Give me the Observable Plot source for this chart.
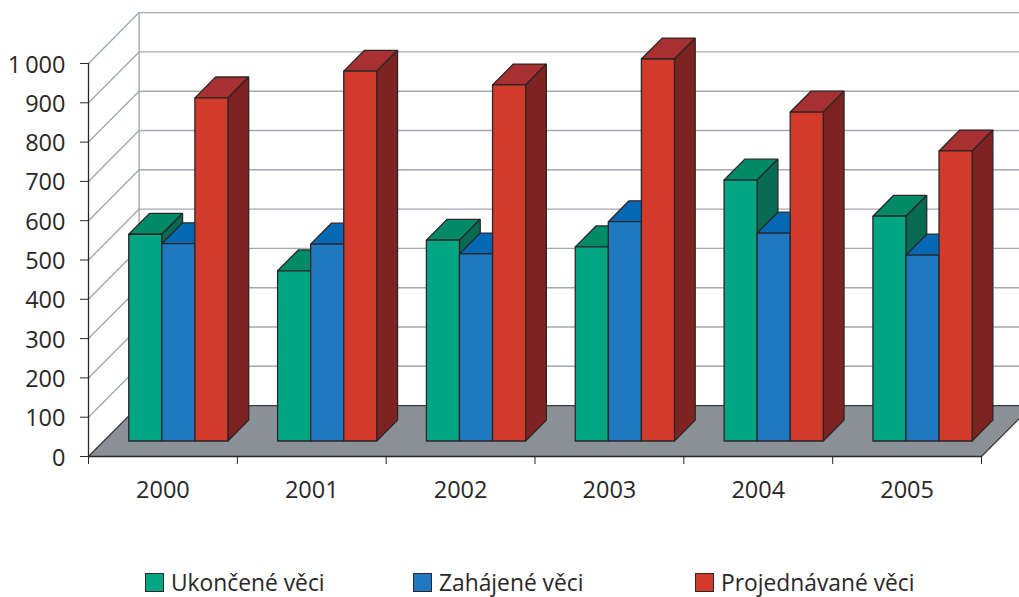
<!DOCTYPE html>
<html lang="cs">
<head>
<meta charset="utf-8">
<script src="https://cdn.jsdelivr.net/npm/d3@7"></script>
<script src="https://cdn.jsdelivr.net/npm/@observablehq/plot@0.6"></script>
<style>
  html, body { margin: 0; padding: 0; background: #fff; overflow: hidden; }
  #legend { position: relative; height: 37px; width: 1019px; font: 22.8px "Open Sans", sans-serif; color: #2b2627; }
  .item { position: absolute; top: 7px; display: flex; align-items: center; height: 31px; white-space: nowrap; }
  .swatch { width: 17px; height: 17px; border: 1.5px solid #2b2627; margin-right: 7px; display: inline-block; }
  svg { display: block; word-spacing: -2px; }
</style>
</head>
<body>
<div id="chart"></div>
<div id="legend"></div>
<script>
const years = ["2000", "2001", "2002", "2003", "2004", "2005"];
const seriesNames = ["Ukončené věci", "Zahájené věci", "Projednávané věci"];
const ukoncene = [526, 433, 511, 494, 664, 572];
const zahajene = [502, 501, 476, 558, 529, 473];
const projednavane = [873, 941, 906, 972, 837, 738];
const yTicks = [0, 100, 200, 300, 400, 500, 600, 700, 800, 900, 1000];

const seriesValues = [ukoncene, zahajene, projednavane];
const faceColors = [
  { front: "#00a582", top: "#008a68", side: "#066b52" },
  { front: "#2079c0", top: "#0468b4", side: "#0468b4" },
  { front: "#d23a2b", top: "#a83030", side: "#7d2422" }
];

// Oblique projection: depth d (0 = front of the floor, 1 = back wall)
const depthX = 0.34;       // category units per full depth
const depthY = 129.5;      // value units per full depth
const barFront = 0.305, barBack = 0.715;
const barWidth = 2 / 9, barGap = 1 / 6;
const project = (c, v, d) => ({ x: c + d * depthX, y: v + d * depthY });

let faceId = 0;
function face(fill, corners) {
  const id = faceId++;
  return [...corners, corners[0]].map(([c, v, d]) => ({ ...project(c, v, d), id, fill }));
}

const floor = face("#8a9196", [[0, 0, 0], [6, 0, 0], [6, 0, 1], [0, 0, 1]]);

const bars = [];
years.forEach((_, i) => {
  seriesValues.forEach((vals, s) => {
    const v = vals[i];
    const x0 = i + barGap + s * barWidth, x1 = x0 + barWidth;
    const col = faceColors[s];
    bars.push(...face(col.top, [[x0, v, barFront], [x1, v, barFront], [x1, v, barBack], [x0, v, barBack]]));
    bars.push(...face(col.side, [[x1, 0, barFront], [x1, v, barFront], [x1, v, barBack], [x1, 0, barBack]]));
    bars.push(...face(col.front, [[x0, 0, barFront], [x1, 0, barFront], [x1, v, barFront], [x0, v, barFront]]));
  });
});

// Back-wall gridlines and the diagonal side-wall lines
const grid = [];
yTicks.forEach((v) => {
  grid.push({ ...project(0, v, 0), k: "d" + v }, { ...project(0, v, 1), k: "d" + v });
  grid.push({ ...project(0, v, 1), k: "h" + v }, { ...project(6, v, 1), k: "h" + v });
});
grid.push({ ...project(0, 0, 1), k: "w" }, { ...project(0, 1000, 1), k: "w" });

const H = 560;
const ink = "#2b2627";
const fontSize = 23.5;

const chart = Plot.plot({
  width: 1019,
  height: H,
  marginLeft: 88,
  marginRight: 38,
  marginTop: 63,
  marginBottom: H - 456,
  style: { background: "#fff", overflow: "hidden", fontFamily: '"Open Sans", sans-serif', fontSize: fontSize + "px", color: ink },
  x: { domain: [0, 6], axis: null },
  y: { domain: [0, 1000], axis: null },
  marks: [
    Plot.line(grid, { x: "x", y: "y", z: "k", stroke: "#a2a9b1", strokeWidth: 1.4 }),
    Plot.line(floor, { x: "x", y: "y", z: "id", fill: "#8a9196", stroke: "#3a3a3c", strokeWidth: 1.2 }),
    Plot.line(bars, { x: "x", y: "y", z: "id", fill: { value: "fill", scale: null }, stroke: "#2b2627", strokeWidth: 1.3, strokeLinejoin: "miter" }),
    Plot.ruleX([0], { y1: 0, y2: 1000, stroke: ink, strokeWidth: 1.3 }),
    Plot.ruleY([0], { x1: 0, x2: 6, stroke: ink, strokeWidth: 1.3 }),
    Plot.axisY({ ticks: yTicks, tickSize: 8, tickFormat: () => "", label: null, stroke: ink }),
    Plot.axisY({
      ticks: yTicks, tickSize: 0, tickPadding: 23, dy: 1.5, label: null, fontSize: fontSize, fill: ink,
      tickFormat: (d) => d >= 1000 ? "1 000" : String(d)
    }),
    Plot.axisX({ ticks: d3.range(0, 7), tickSize: 8, tickFormat: () => "", label: null, stroke: ink }),
    Plot.axisX({
      ticks: d3.range(0, 6).map((i) => i + 0.5), tickSize: 0, tickPadding: 25, label: null, fontSize: fontSize, fill: ink,
      tickFormat: (d) => years[d - 0.5]
    })
  ]
});
document.getElementById("chart").appendChild(chart);

const legendLeft = [145, 413, 695];
const legend = document.getElementById("legend");
seriesNames.forEach((name, s) => {
  const item = document.createElement("div");
  item.className = "item";
  item.style.left = legendLeft[s] + "px";
  const sw = document.createElement("span");
  sw.className = "swatch";
  sw.style.background = faceColors[s].front;
  const label = document.createElement("span");
  label.textContent = name;
  item.append(sw, label);
  legend.appendChild(item);
});
</script>
</body>
</html>
